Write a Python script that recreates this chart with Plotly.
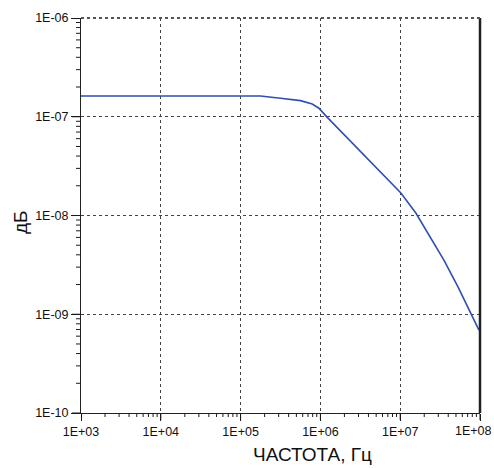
import plotly.graph_objects as go

# Frequency response: frequency (Hz) vs level
freq_hz = [1e3, 1e4, 1e5, 1.77e5, 3.16e5, 5.63e5, 7.9e5, 9.57e5, 1.22e6,
           3.0e6, 1.02e7, 1.57e7, 2.42e7, 3.53e7, 5.3e7, 7.71e7, 9.7e7]
level = [1.62e-7, 1.62e-7, 1.62e-7, 1.62e-7, 1.54e-7, 1.456e-7, 1.346e-7, 1.22e-7, 9.86e-8,
         4.68e-8, 1.69e-8, 1.06e-8, 5.9e-9, 3.54e-9, 1.89e-9, 1.03e-9, 6.9e-10]

x_major = [1e3, 1e4, 1e5, 1e6, 1e7, 1e8]
x_labels = ["1E+03", "1E+04", "1E+05", "1E+06", "1E+07", "1E+08"]
y_major = [1e-10, 1e-9, 1e-8, 1e-7, 1e-6]
y_labels = ["1E-10", "1E-09", "1E-08", "1E-07", "1E-06"]

x_title = "ЧАСТОТА, Гц"
y_title = "дБ"

font = "Liberation Sans, Arial, sans-serif"

W, H = 494, 468
ML, MR, MT, MB = 81, 14, 18, 55
X_RANGE = [3, 8]
Y_RANGE = [-10, -6]
PLOT_W = W - ML - MR
PLOT_H = H - MT - MB
TICK_COLOR = "#1a1a1a"


def minor_vals(decades):
    vals = []
    for d in decades[:-1]:
        vals += [d * k for k in range(2, 10)]
    return vals


fig = go.Figure()
fig.add_trace(go.Scatter(x=freq_hz, y=level, mode="lines",
                         line=dict(color="#2f4fae", width=1.6), hoverinfo="skip"))

# Tick strokes outside the frame (x in data units on the log axis, length in paper units)
for vals, length in ((x_major, 7), (minor_vals(x_major), 4)):
    for v in vals:
        fig.add_shape(type="line", xref="x", yref="paper", x0=v, x1=v,
                      y0=0, y1=-length / PLOT_H, layer="above",
                      line=dict(color=TICK_COLOR, width=1))
for vals, length in ((y_major, 9), (minor_vals(y_major), 5)):
    for v in vals:
        fig.add_shape(type="line", xref="paper", yref="y", y0=v, y1=v,
                      x0=0, x1=-length / PLOT_W, layer="above",
                      line=dict(color=TICK_COLOR, width=1))

fig.update_layout(
    xaxis=dict(type="log", range=X_RANGE, tickmode="array", tickvals=x_major,
               ticktext=x_labels[:-1] + [""],
               ticks="outside", ticklen=7, tickcolor=TICK_COLOR, tickwidth=1,
               showline=True, linecolor="#222", linewidth=1,
               showgrid=True, gridcolor="#444", griddash="dot", gridwidth=1,
               zeroline=False,
               tickfont=dict(family=font, size=12.5, color="#111")),
    yaxis=dict(type="log", range=Y_RANGE, tickmode="array", tickvals=y_major,
               ticktext=y_labels,
               ticks="outside", ticklen=9, tickcolor=TICK_COLOR, tickwidth=1,
               showline=True, linecolor="#222", linewidth=1,
               showgrid=True, gridcolor="#444", griddash="dot", gridwidth=1,
               zeroline=False,
               tickfont=dict(family=font, size=12.5, color="#111")),
)

# last x label is placed separately so it stays inside the page
fig.add_annotation(text=x_labels[-1], xref="x", yref="paper", x=8, y=0,
                   yanchor="top", xanchor="right", xshift=14, yshift=-9,
                   showarrow=False, font=dict(family=font, size=12.5, color="#111"))

# Frame: solid right edge, dotted top edge
fig.add_shape(type="line", xref="paper", yref="paper", x0=1, x1=1, y0=0, y1=1,
              line=dict(color="#222", width=2.5))
fig.add_shape(type="line", xref="paper", yref="paper", x0=0, x1=1, y0=1, y1=1,
              line=dict(color="#555", width=2, dash="dot"))

fig.add_annotation(text=x_title, xref="paper", yref="paper", x=(312 - ML) / PLOT_W,
                   y=-42 / PLOT_H, showarrow=False, xanchor="center", yanchor="middle",
                   font=dict(family=font, size=19, color="#111"))
fig.add_annotation(text=y_title, xref="paper", yref="paper", x=-61 / PLOT_W,
                   y=(413 - 222) / PLOT_H, showarrow=False, textangle=-90,
                   xanchor="center", yanchor="middle",
                   font=dict(family=font, size=19, color="#111"))

fig.update_layout(width=W, height=H, margin=dict(l=ML, r=MR, t=MT, b=MB),
                  plot_bgcolor="white", paper_bgcolor="white", showlegend=False)

fig.write_html("out.html")
